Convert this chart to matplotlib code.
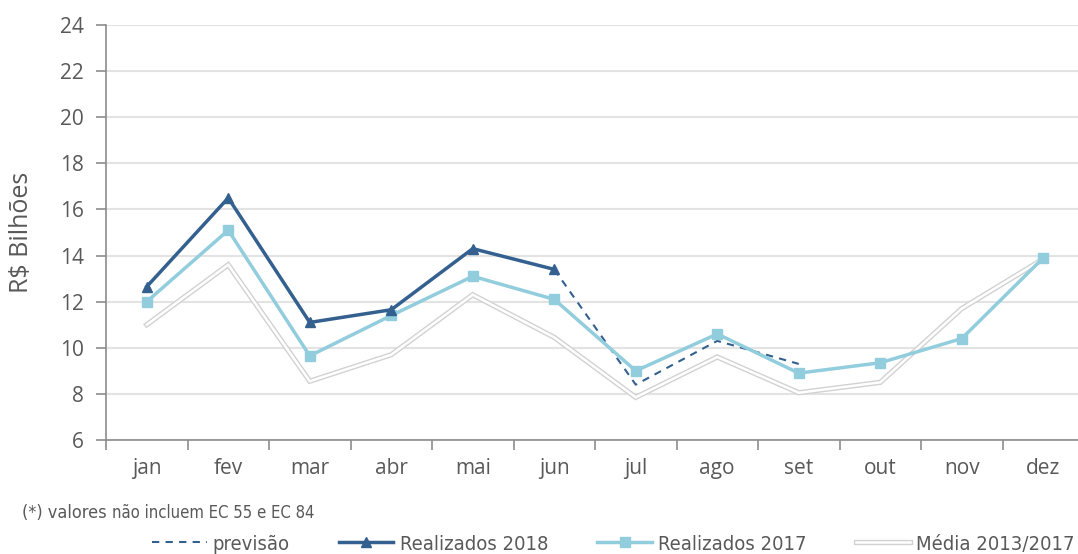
import matplotlib
matplotlib.use("Agg")
import matplotlib.pyplot as plt
from matplotlib.lines import Line2D
import matplotlib.patheffects as pe
import numpy as np

meses = ["jan", "fev", "mar", "abr", "mai", "jun", "jul", "ago", "set", "out", "nov", "dez"]
real_2018 = [12.65, 16.5, 11.1, 11.65, 14.3, 13.4]
previsao_meses = ["jun", "jul", "ago", "set"]
previsao = [13.4, 8.4, 10.3, 9.3]
real_2017 = [12.0, 15.1, 9.65, 11.4, 13.1, 12.1, 9.0, 10.6, 8.9, 9.35, 10.4, 13.9]
media = [11.0, 13.6, 8.55, 9.7, 12.3, 10.45, 7.85, 9.6, 8.05, 8.5, 11.7, 13.85]

plt.rcParams['font.family'] = ['Open Sans', 'DejaVu Sans']
txt = '#595959'
c18 = '#34608f'
c17 = '#92cddd'
cmed = '#d2d2d2'
cond = dict(family='DejaVu Sans', stretch='condensed')

fig = plt.figure(figsize=(10.78, 5.54), dpi=100)
ax = fig.add_axes([106 / 1078, 1 - 440 / 554, 978 / 1078, 415 / 554])

x = np.arange(len(meses))
xp = [meses.index(m) for m in previsao_meses]

# media 2013/2017 drawn as a hollow (double) line
ax.plot(x, media, color=cmed, lw=3.8, solid_joinstyle='miter', zorder=2)
ax.plot(x, media, color='white', lw=1.8, solid_joinstyle='miter', zorder=2.1)
ax.plot(xp, previsao, color=c18, lw=1.5, ls=(0, (3.5, 3)), zorder=3)
ax.plot(x, real_2017, color=c17, lw=2.5, marker='s', ms=7, zorder=4)
ax.plot(x[:len(real_2018)], real_2018, color=c18, lw=2.5, marker='^', ms=7, zorder=5)

ax.set_xlim(-0.5, len(meses) - 0.5)
ax.set_ylim(6, 24)
ax.set_yticks(range(6, 25, 2))
ax.set_xticks(x)
ax.set_xticklabels(meses)
ax.set_xticks(np.arange(-0.5, len(meses), 1), minor=True)
ax.tick_params(axis='x', which='major', length=0, pad=13, labelsize=15, colors=txt)
ax.tick_params(axis='x', which='minor', length=7, width=1.2, color='#8c8c8c', direction='out')
ax.tick_params(axis='y', length=7, width=1.2, color='#8c8c8c', labelsize=15, labelcolor=txt, pad=9)
ax.grid(axis='y', color='#e3e3e3', lw=1.5)
ax.set_axisbelow(True)
for s in ['top', 'right']:
    ax.spines[s].set_visible(False)
for s in ['left', 'bottom']:
    ax.spines[s].set_color('#8c8c8c')
    ax.spines[s].set_linewidth(1.2)
ax.set_ylabel('R$ Bilhões', fontsize=18, color=txt)
ax.yaxis.set_label_coords(-0.074, 0.5)

nota = fig.text(22 / 1078, 1 - 522 / 554, '(*) valores', fontsize=13, color=txt, va='bottom',
                **cond)
ax.annotate('não incluem EC 55 e EC 84', xy=(1, 0), xycoords=nota, xytext=(4, 0),
            textcoords='offset points', fontsize=12, color=txt, va='bottom', **cond)

handles = [
    Line2D([], [], color=c18, lw=1.5, ls=(0, (3.5, 3))),
    Line2D([], [], color=c18, lw=2.5, marker='^', ms=7),
    Line2D([], [], color=c17, lw=2.5, marker='s', ms=7),
    Line2D([], [], color='white', lw=1.8,
           path_effects=[pe.Stroke(linewidth=3.8, foreground=cmed), pe.Normal()]),
]
labels = ['previsão', 'Realizados 2018', 'Realizados 2017', 'Média 2013/2017']
fig.legend(handles, labels, loc='center', bbox_to_anchor=(0.569, 1 - 544 / 554), ncol=4,
           frameon=False, prop=dict(size=14.5, **cond), labelcolor=txt, handlelength=2.7,
           columnspacing=2.45, handletextpad=0.3, borderpad=0, borderaxespad=0)

fig.savefig('out.png', dpi=100)
